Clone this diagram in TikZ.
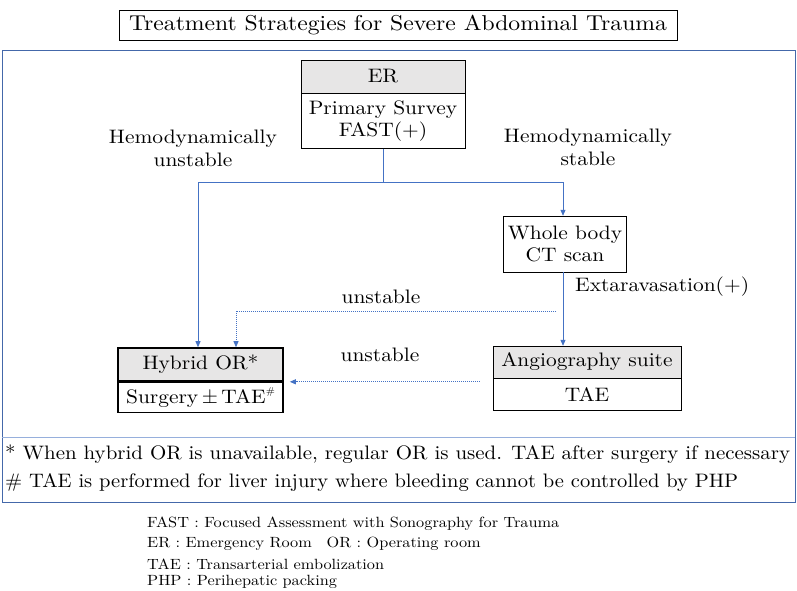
\documentclass[tikz,border=0pt]{standalone}
\usepackage{graphicx}
\usepackage{fontspec}
\setmainfont{lmroman10-regular.otf}[FakeStretch=1.1]
\usetikzlibrary{positioning,arrows.meta}

\definecolor{frameblue}{RGB}{68,104,170}
\definecolor{sepblue}{RGB}{150,175,220}
\definecolor{flowblue}{RGB}{68,114,196}
\definecolor{hdrgray}{RGB}{231,230,230}

\begin{document}
\begin{tikzpicture}[
		x=1pt, y=-1pt,
		% Tekst v okvirjih in oznake
		boxtext/.style={font=\fontsize{19.5}{22}\selectfont, align=center, inner sep=0pt},
		hdrbox/.style={boxtext, draw, fill=hdrgray},
		bodybox/.style={boxtext, draw, fill=white},
		flow/.style={draw=flowblue, line width=0.8pt},
		flowarrow/.style={flow, -{Triangle[length=6pt,width=5pt]}},
		dotflow/.style={draw=flowblue, line width=0.8pt, dash pattern=on 1pt off 1pt, -{Triangle[length=6pt,width=5pt]}},
		lbl/.style={font=\fontsize{19.5}{23}\selectfont, align=center, inner sep=0pt},
		note/.style={font=\fontsize{19.5}{22}\selectfont, anchor=west, inner sep=0pt},
		legend/.style={font=\fontsize{14.8}{16}\selectfont, anchor=west, inner sep=0pt},
		]
		\useasboundingbox (0,0) rectangle (797,591);

		% Naslov
		\node[draw, line width=0.8pt, minimum width=558pt, minimum height=30pt, inner sep=0pt,
			font=\fontsize{21.5}{24}\selectfont] (title) at (398,25) {Treatment Strategies for Severe Abdominal Trauma};

		% Okvir in locilna crta
		\draw[frameblue, line width=1pt] (2,51) rectangle (795,502);
		\draw[sepblue, line width=1pt] (2,437) -- (795,437);

		% Okvirji
		\node[hdrbox, minimum width=164pt, minimum height=33pt] (erhdr) at (383,76.5) {ER};
		\node[bodybox, minimum width=164pt, minimum height=55pt, below=0pt of erhdr] (erbody) {Primary Survey\\FAST(+)};

		\node[bodybox, minimum width=123pt, minimum height=56pt] (ct) at (565,244) {Whole body\\CT scan};

		\node[hdrbox, minimum width=188pt, minimum height=32pt] (angiohdr) at (587,362) {Angiography suite};
		\node[bodybox, minimum width=188pt, minimum height=32pt, below=0pt of angiohdr] (angiobody) {TAE};

		\node[hdrbox, line width=1.6pt, minimum width=165pt, minimum height=33pt] (hybridhdr) at (200.5,364.5) {Hybrid OR*};
		\node[bodybox, line width=1.6pt, minimum width=165pt, minimum height=30pt, below=0pt of hybridhdr] (hybridbody) {Surgery$\,\pm\,$TAE\raisebox{1.1ex}{\fontsize{10}{10}\selectfont\#}};

		% Povezave
		\draw[flow] (erbody.south) -- ++(0,34) coordinate (split);
		\draw[flowarrow] (split) -| ([xshift=-2.5pt]hybridhdr.north);
		\draw[flowarrow] (split) -| ([xshift=-2pt]ct.north);
		\draw[flowarrow] ([xshift=-2pt]ct.south) -- ([xshift=-2pt]ct.south |- angiohdr.north);
		\coordinate (unstab) at (556,311);
		\draw[dotflow] (unstab) -| ([xshift=35.5pt]hybridhdr.north);
		\draw[dotflow] ([xshift=196pt]hybridbody.north east) -- ([xshift=6pt]hybridbody.north east);

		% Oznake
		\node[lbl] (unstablelbl) at (193,148) {Hemodynamically\\unstable};
		\node[lbl] (stablelbl) at (588,147) {Hemodynamically\\stable};
		\node[lbl] (unstableup) at (381,297) {unstable};
		\node[lbl] (unstabledown) at (380,355) {unstable};
		\node[lbl, anchor=west] (extrav) at (575,287) {Extaravasation(+)};

		% Opombe
		\node[note] (notestar) at (5,454) {\resizebox{785pt}{\height}{* When hybrid OR is unavailable, regular OR is used. TAE after surgery if necessary}};
		\node[note] (notehash) at (5,483) {\resizebox{733pt}{\height}{\# TAE is performed for liver injury where bleeding cannot be controlled by PHP}};

		% Legenda
		\node[legend] (legfast) at (147,524) {FAST : Focused Assessment with Sonography for Trauma};
		\node[legend] (leger) at (147,544) {ER : Emergency Room\quad OR : Operating room};
		\node[legend] (legtae) at (147,564) {TAE : Transarterial embolization};
		\node[legend] (legphp) at (147,582) {PHP : Perihepatic packing};
	\end{tikzpicture}
\end{document}
